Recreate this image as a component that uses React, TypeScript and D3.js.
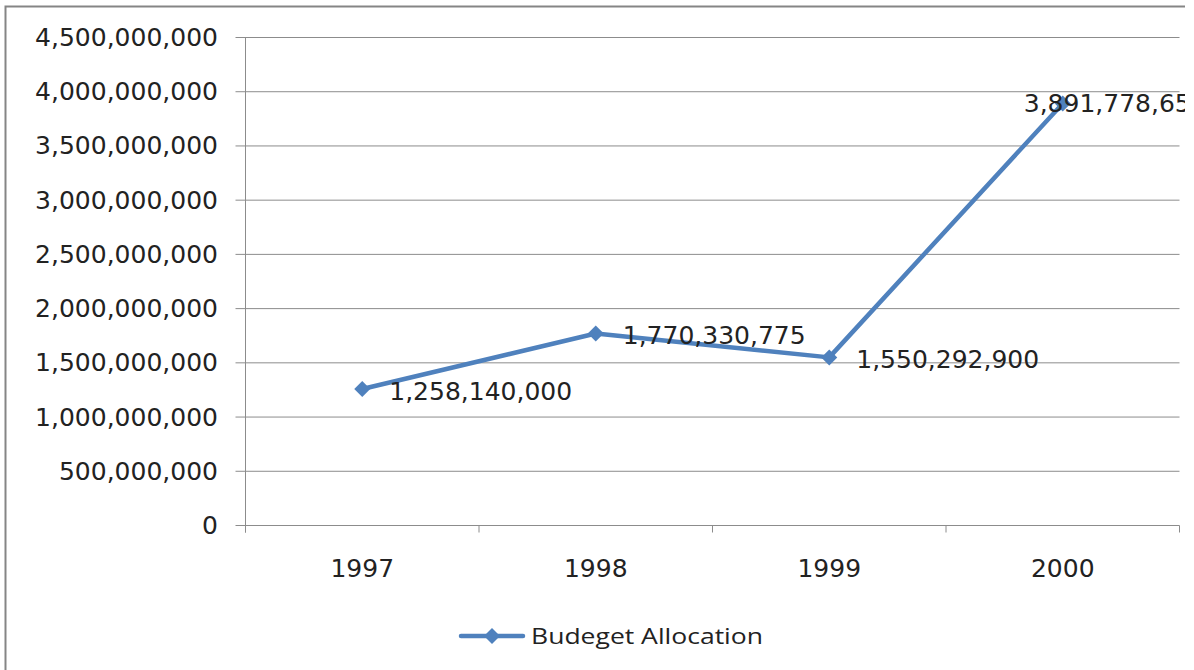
import React from "react";
import * as d3 from "d3";

const categories = ["1997", "1998", "1999", "2000"];
const values = [1258140000, 1770330775, 1550292900, 3891778650];
const yTicks = [0, 500000000, 1000000000, 1500000000, 2000000000, 2500000000, 3000000000, 3500000000, 4000000000, 4500000000];
const seriesName = "Budeget Allocation";

const W = 1194;
const H = 670;
const left = 245.5;
const right = 1179.5;
const top = 37.5;
const bottom = 525.5;
const blue = "#4F81BD";
const grid = "#8c8c8c";
const font = "'DejaVu Sans', Verdana, sans-serif";
const fs = 25;

export default function App() {
  const x = d3.scaleBand<string>().domain(categories).range([left, right]);
  const y = d3.scaleLinear().domain([0, 4500000000]).range([bottom, top]);
  const fmt = d3.format(",");
  const line = d3
    .line<number>()
    .x((_, i) => (x(categories[i]) as number) + x.bandwidth() / 2)
    .y((d) => y(d));
  const diamond = (cx: number, cy: number, r: number) =>
    `M${cx},${cy - r}L${cx + r},${cy}L${cx},${cy + r}L${cx - r},${cy}Z`;
  const boundaries = [...categories.map((c) => x(c) as number), right];

  return (
    <svg
      width={W}
      height={H}
      style={{ position: "absolute", left: 0, top: 0, display: "block", background: "#fff" }}
    >
      <defs>
        <clipPath id="clip">
          <rect x={0} y={0} width={1185} height={H} />
        </clipPath>
      </defs>
      <g clipPath="url(#clip)">
        <rect x={5.5} y={6.5} width={1300} height={800} fill="#fff" stroke="#858585" strokeWidth={2} />
        {yTicks.map((t) => (
          <g key={t}>
            <line x1={left - 10} x2={right} y1={y(t)} y2={y(t)} stroke={grid} strokeWidth={1} />
            <text
              x={218}
              y={y(t)}
              textAnchor="end"
              dominantBaseline="central"
              fontFamily={font}
              fontSize={fs}
              fill="#222"
            >
              {fmt(t)}
            </text>
          </g>
        ))}
        <line x1={left} x2={left} y1={top} y2={bottom + 7} stroke={grid} strokeWidth={1} />
        {boundaries.map((b, i) => (
          <line key={i} x1={b} x2={b} y1={bottom} y2={bottom + 7} stroke={grid} strokeWidth={1} />
        ))}
        {categories.map((c) => (
          <text
            key={c}
            x={(x(c) as number) + x.bandwidth() / 2}
            y={577}
            textAnchor="middle"
            fontFamily={font}
            fontSize={fs}
            fill="#222"
          >
            {c}
          </text>
        ))}
        <path d={line(values) || ""} fill="none" stroke={blue} strokeWidth={4.5} strokeLinejoin="round" />
        {values.map((v, i) => {
          const cx = (x(categories[i]) as number) + x.bandwidth() / 2;
          return <path key={i} d={diamond(cx, y(v), 8)} fill={blue} />;
        })}
        {values.map((v, i) => {
          const cx = (x(categories[i]) as number) + x.bandwidth() / 2;
          const last = i === values.length - 1;
          return (
            <text
              key={"l" + i}
              x={last ? cx - 39 : cx + 27}
              y={y(v) + (last ? 0 : 2)}
              dominantBaseline="central"
              fontFamily={font}
              fontSize={fs}
              fill="#222"
            >
              {fmt(v)}
            </text>
          );
        })}
        <g>
          <line x1={461} x2={523} y1={636} y2={636} stroke={blue} strokeWidth={4.5} strokeLinecap="round" />
          <path d={diamond(492, 636, 8)} fill={blue} />
          <text
            x={531}
            y={644}
            fontFamily="'Open Sans', Lato, sans-serif"
            fontSize={22}
            textLength={232}
            lengthAdjust="spacingAndGlyphs"
            fill="#222"
          >
            {seriesName}
          </text>
        </g>
      </g>
    </svg>
  );
}
